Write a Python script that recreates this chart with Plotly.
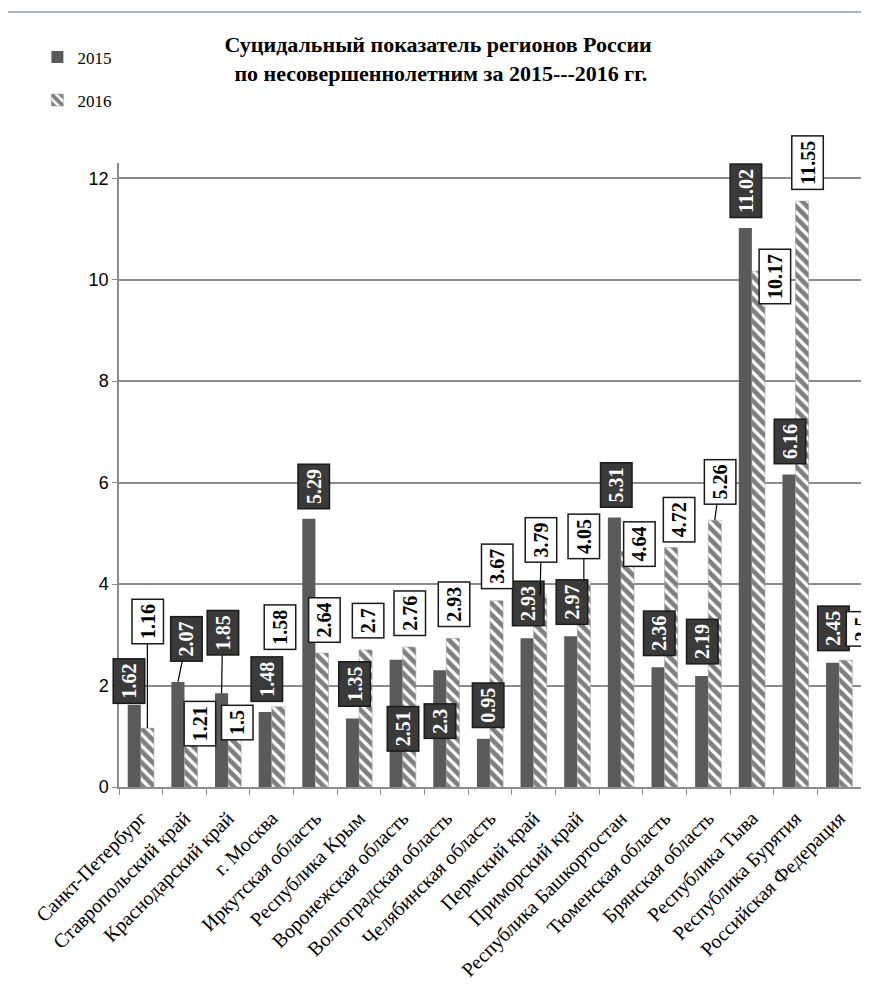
import plotly.graph_objects as go

# data
regions = [
    "Санкт-Петербург", "Ставропольский край", "Краснодарский край", "г. Москва",
    "Иркутская область", "Республика Крым", "Воронежская область",
    "Волгоградская область", "Челябинская область", "Пермский край",
    "Приморский край", "Республика Башкортостан", "Тюменская область",
    "Брянская область", "Республика Тыва", "Республика Бурятия",
    "Российская Федерация",
]
values_2015 = [1.62, 2.07, 1.85, 1.48, 5.29, 1.35, 2.51, 2.3, 0.95, 2.93,
               2.97, 5.31, 2.36, 2.19, 11.02, 6.16, 2.45]
values_2016 = [1.16, 1.21, 1.5, 1.58, 2.64, 2.7, 2.76, 2.93, 3.67, 3.79,
               4.05, 4.64, 4.72, 5.26, 10.17, 11.55, 2.5]

# label box placement (pixel offsets from bar top) and leader-line flags
offsets_2015 = [(-5, -24), (9, -43), (1, -60), (2, -33), (5, -32), (2, -34),
                (7, 69), (0, 51), (5, -34), (1, -35), (1, -34), (2, -33),
                (1, -34), (1, -34), (1, -37), (1, -33), (1, -34)]
leaders_2015 = {1, 2}
offsets_2016 = [(0, -107), (9, -2), (3, 12), (2, -80), (2, -33), (2, -29),
                (1, -34), (1, -34), (1, -34), (1, -55), (0, -45), (12, -8),
                (8, -28), (5, -38), (16, 5), (5, -38), (16, -31)]
leaders_2016 = {0, 9, 10, 13}

SERIF = "Liberation Serif"
GRID = "#8c8c8c"

fig = go.Figure()
fig.add_trace(go.Bar(
    x=regions, y=values_2015, name="2015", legendgroup="a",
    marker=dict(color="#5a5a5a", line=dict(width=0)),
))
fig.add_trace(go.Bar(
    x=regions, y=values_2016, name="2016", legendgroup="b",
    marker=dict(color="white", line=dict(width=0.5, color="#999999"),
                pattern=dict(shape="\\", fgcolor="black", bgcolor="white",
                             size=8, solidity=0.6)),
))


def add_labels(values, offsets, leaders, shift, dark):
    for i, v in enumerate(values):
        dx, dy = offsets[i]
        fig.add_annotation(
            x=i + shift, y=v, xref="x", yref="y",
            text="<b>%s</b>" % v, textangle=-90,
            showarrow=True, arrowhead=0, arrowwidth=1.2,
            arrowcolor="black" if i in leaders else "rgba(0,0,0,0)",
            ax=dx, ay=dy,
            font=dict(family=SERIF, size=20, color="white" if dark else "black"),
            bgcolor="#3a3a3a" if dark else "white",
            bordercolor="#1a1a1a", borderwidth=1.5, borderpad=4,
        )


add_labels(values_2015, offsets_2015, leaders_2015, -0.15, True)
add_labels(values_2016, offsets_2016, leaders_2016, 0.15, False)

# outer chart frame
fig.add_shape(type="rect", xref="paper", yref="paper",
              x0=-0.1536, x1=1.05, y0=-0.5, y1=1.242,
              line=dict(color="#aab4c3", width=2))

# the page body has an 8px margin, so margins are trimmed by 8px on top/left
fig.update_layout(
    width=869, height=987,
    margin=dict(l=111, r=16, t=155, b=208, autoexpand=False),
    paper_bgcolor="white", plot_bgcolor="white",
    barmode="group", bargap=0.4, bargroupgap=0,
    title=dict(
        text="<b>Суцидальный показатель регионов России<br> по несовершеннолетним за 2015---2016 гг.</b>",
        x=0.495, xref="container", xanchor="center",
        y=1 - 44 / 987, yref="container", yanchor="top",
        font=dict(family=SERIF, size=22, color="black"),
    ),
    legend=dict(
        x=-0.11, y=1.198, xanchor="left", yanchor="top",
        font=dict(family=SERIF, size=17, color="black"),
        traceorder="grouped", tracegroupgap=18, itemwidth=30,
        bgcolor="rgba(0,0,0,0)",
    ),
    showlegend=True,
)

# fixed range so the label annotations do not widen the category axis
fig.update_xaxes(
    range=[-0.5, len(regions) - 0.5],
    tickangle=-45, tickson="boundaries", ticks="outside", ticklen=6,
    tickcolor=GRID, showline=True, linecolor=GRID, linewidth=1.5,
    tickfont=dict(family=SERIF, size=20, color="black"),
    ticklabelstandoff=10,
    showgrid=False, automargin=False,
)
fig.update_yaxes(
    range=[0, 12.3], dtick=2, ticks="outside", ticklen=5, tickcolor=GRID,
    showline=True, linecolor=GRID, linewidth=1.5,
    showgrid=True, gridcolor=GRID, gridwidth=1.5,
    tickfont=dict(family="Liberation Sans", size=18, color="black"),
    zeroline=False, automargin=False,
)

fig.write_html("out.html")
